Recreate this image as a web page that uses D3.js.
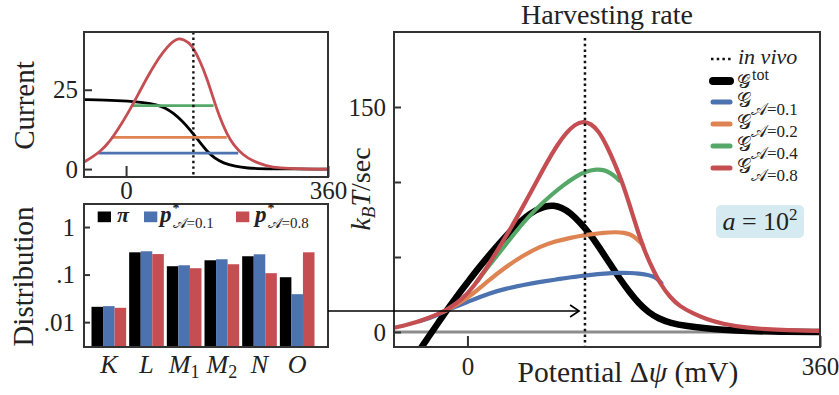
<!DOCTYPE html>
<html>
<head>
<meta charset="utf-8">
<script src="https://cdn.jsdelivr.net/npm/d3@7"></script>
<style>
  body { margin: 0; background: #fff; }
  svg text { font-family: "Liberation Serif", serif; fill: #222; }
</style>
</head>
<body>
<svg id="fig" width="839" height="395"></svg>
<script>
// ---- data ----
const potentialDomain = [-75, 360];
const inVivo = 120;

// top-left panel: current vs potential
const currentMax = [[-75, 2.2], [-60, 3.8], [-46, 5.6], [-35, 7.5], [-22.6, 10.3], [-8, 14.3], [7, 18.7],
  [22, 23.7], [37, 28.7], [52, 33.3], [66.5, 37], [80, 39.8], [90, 40.9], [96, 41.1], [104, 40.7],
  [112, 39.8], [120, 38.2], [132, 34], [144, 28.7], [156, 22], [167.5, 16], [180, 11], [191, 7.7],
  [208, 4.5], [227, 2.4], [250, 1], [274, 0.3], [310, 0.05], [360, 0]];
const currentTot = [[-75, 21.9], [-40, 21.8], [7, 21.4], [30, 21], [55, 20.3], [70, 19.3], [84, 17.7],
  [100, 15.2], [114, 12.4], [130, 8.8], [144, 5.6], [158, 3.4], [173, 1.9], [195, 0.8], [215, 0.3],
  [250, 0.05], [360, 0]];
const currentLevels = [5, 10, 20];
const levelSpans = [[-49, 200], [-25.5, 179.5], [10, 156]];

// bottom-left panel: distributions
const states = ["K", "L", "M1", "M2", "N", "O"];
const piDist = [0.021, 0.294, 0.150, 0.200, 0.243, 0.088];
const pA01 = [0.0217, 0.309, 0.157, 0.210, 0.267, 0.0387];
const pA08 = [0.020, 0.270, 0.136, 0.165, 0.107, 0.294];

// main panel: harvesting rate
const gTot = [[-52, -15], [-40, -3.5], [-30, 6], [-20, 15.5], [-10, 24.5], [0, 33], [10, 41.5], [20, 49.5],
  [30, 57], [40, 64.5], [50, 71], [60, 77], [70, 81.5], [80, 84], [88, 84.5], [96, 83], [105, 79.5],
  [115, 73], [125, 65.5], [135, 56], [145, 46], [155, 36], [165, 27], [175, 19], [185, 13], [195, 9],
  [207, 6], [225, 3.8], [241, 2.6], [260, 1.5], [285, 0.6], [320, 0.2], [360, 0]];
const gA01 = [[-49, 7.2], [-35, 10], [-21, 14.7], [0, 20], [23, 26], [40, 29], [57, 31.4], [75, 33.5],
  [91, 35], [105, 36.5], [125, 38], [140, 39], [155, 39.5], [166, 39.4], [175, 39], [183, 38.2],
  [190, 37], [194, 35.5], [198, 32.5]];
const gA02 = [[-25.5, 13.2], [-10, 18.5], [6, 25.5], [20, 33.5], [40, 43.8], [57, 51], [74, 57], [90, 60.5],
  [105, 62.8], [115, 64], [125, 65], [139, 66.3], [152, 66.6], [160, 66.2], [166, 65.2], [172, 62.8],
  [178.5, 58.5]];
const gA04 = [[10, 33.8], [16, 39.2], [23, 45], [40, 59], [57, 73], [70, 82], [84, 90.5], [98, 98],
  [111.5, 104], [122, 107.3], [132, 108.5], [140, 108], [146, 106], [151, 103.5], [155, 101]];
const gA08 = [[-75, 2.8], [-60, 5], [-45, 8], [-30, 12], [-21, 14.7], [-5, 22], [6, 30], [20, 43],
  [33, 57], [45, 70], [57, 84], [70, 99.5], [81, 113], [92, 125], [101, 133], [110, 138.5], [118, 140.5],
  [126, 139], [134, 134], [142, 124.5], [150, 113], [158, 100], [166, 84], [174, 67], [182, 52],
  [190, 41], [197, 32], [207, 23], [217, 17], [230, 12.5], [244, 8.5], [260, 5.5], [285, 2.7],
  [320, 1.2], [360, 0.7]];

const blue = "#4c72b0", orange = "#dd8452", green = "#55a868", red = "#c44e52";
const levelColors = [blue, orange, green];

const svg = d3.select("#fig");
svg.append("rect").attr("width", 839).attr("height", 395).attr("fill", "#fff");

const smooth = (x, y) => d3.line().x(d => x(d[0])).y(d => y(d[1])).curve(d3.curveBasis);

function frame(g, x0, y0, x1, y1) {
  g.append("rect").attr("x", x0).attr("y", y0).attr("width", x1 - x0).attr("height", y1 - y0)
    .attr("fill", "none").attr("stroke", "#333").attr("stroke-width", 2);
}
function styleAxis(g) {
  g.select(".domain").remove();
  g.selectAll(".tick line").attr("stroke", "#333").attr("stroke-width", 2);
  g.selectAll(".tick text").attr("font-family", "Liberation Serif").attr("font-size", 25).attr("fill", "#222");
}

// ---------- top-left: current ----------
const cur = { l: 84, r: 328, t: 32, b: 177 };
const xCur = d3.scaleLinear().domain(potentialDomain).range([cur.l, cur.r]);
const yCur = d3.scaleLinear().domain([-2.5, 43.2]).range([cur.b, cur.t]);
const gCur = svg.append("g");
svg.append("clipPath").attr("id", "clipCur").append("rect")
  .attr("x", cur.l).attr("y", cur.t).attr("width", cur.r - cur.l).attr("height", cur.b - cur.t);
const gCurPlot = gCur.append("g").attr("clip-path", "url(#clipCur)");

gCurPlot.append("path").datum(currentTot).attr("d", smooth(xCur, yCur))
  .attr("fill", "none").attr("stroke", "#000").attr("stroke-width", 2.8);
gCurPlot.selectAll(".lvl").data(currentLevels).join("line").attr("class", "lvl")
  .attr("x1", (d, i) => xCur(levelSpans[i][0])).attr("x2", (d, i) => xCur(levelSpans[i][1]))
  .attr("y1", d => yCur(d)).attr("y2", d => yCur(d))
  .attr("stroke", (d, i) => levelColors[i]).attr("stroke-width", 2.8);
gCurPlot.append("path").datum(currentMax).attr("d", smooth(xCur, yCur))
  .attr("fill", "none").attr("stroke", red).attr("stroke-width", 2.8);
gCurPlot.append("line").attr("x1", xCur(inVivo)).attr("x2", xCur(inVivo))
  .attr("y1", cur.t).attr("y2", cur.b)
  .attr("stroke", "#111").attr("stroke-width", 2.4).attr("stroke-dasharray", "2.4,3.2");

gCur.append("g").attr("transform", `translate(${cur.l},0)`)
  .call(d3.axisLeft(yCur).tickValues([0, 25]).tickSize(-8).tickPadding(6)).call(styleAxis);
gCur.append("g").attr("transform", `translate(0,${cur.b})`)
  .call(d3.axisBottom(xCur).tickValues([0, 360]).tickSize(-11).tickPadding(4)).call(styleAxis);
frame(gCur, cur.l, cur.t, cur.r, cur.b);
svg.append("text").attr("transform", `translate(34,${(cur.t + cur.b) / 2 + 1}) rotate(-90)`)
  .attr("text-anchor", "middle").attr("font-size", 29).text("Current");

// ---------- bottom-left: distribution ----------
const dist = { l: 84, r: 328, t: 204, b: 347 };
const xBand = d3.scaleBand().domain(states).range([91.5, 314.5]).paddingInner(0.08);
const xSub = d3.scaleBand().domain([0, 1, 2]).range([0, xBand.bandwidth()]);
const yBar = d3.scaleLog().domain([0.003, 3.05]).range([dist.b, dist.t]);
const gDist = svg.append("g");
const barSeries = [{ vals: piDist, color: "#000" }, { vals: pA01, color: blue }, { vals: pA08, color: red }];
barSeries.forEach((s, si) => {
  gDist.selectAll(".b" + si).data(states).join("rect").attr("class", "b" + si)
    .attr("x", d => xBand(d) + xSub(si)).attr("width", xSub.bandwidth())
    .attr("y", (d, i) => yBar(s.vals[i])).attr("height", (d, i) => dist.b - yBar(s.vals[i]))
    .attr("fill", s.color);
});
gDist.append("g").attr("transform", `translate(${dist.l},0)`)
  .call(d3.axisLeft(yBar).tickValues([0.01, 0.1, 1]).tickSize(-6).tickPadding(9)
    .tickFormat(d => d === 1 ? "1" : d === 0.1 ? ".1" : ".01")).call(styleAxis);
frame(gDist, dist.l, dist.t, dist.r, dist.b);
const stLab = gDist.selectAll(".st").data(states).join("text").attr("class", "st")
  .attr("x", d => xBand(d) + xBand.bandwidth() / 2).attr("y", 373)
  .attr("text-anchor", "middle").attr("font-size", 26).attr("font-style", "italic");
stLab.append("tspan").text(d => d[0]);
stLab.filter(d => d.length > 1).append("tspan").attr("dy", 5).attr("font-size", 18)
  .attr("font-style", "normal").text(d => d.slice(1));
svg.append("text").attr("transform", `translate(33,${(dist.t + dist.b) / 2 + 1}) rotate(-90)`)
  .attr("text-anchor", "middle").attr("font-size", 29).text("Distribution");

// bar legend
const barLeg = [{ x: 97.7, c: "#000", tx: 117 }, { x: 144, c: blue, tx: 160 }, { x: 236, c: red, tx: 255 }];
barLeg.forEach(l => gDist.append("rect").attr("x", l.x).attr("y", 211.5).attr("width", 13.3)
  .attr("height", 10.7).attr("fill", l.c));
gDist.append("text").attr("x", barLeg[0].tx).attr("y", 222).attr("font-size", 22)
  .attr("font-weight", "bold").attr("font-style", "italic").text("π");
[["0.1", 1], ["0.8", 2]].forEach(([a, i]) => {
  const t = gDist.append("text").attr("x", barLeg[i].tx).attr("y", 222).attr("font-size", 23);
  t.append("tspan").attr("font-weight", "bold").attr("font-style", "italic").text("p");
  t.append("tspan").attr("font-size", 14).attr("dy", -9).attr("dx", 1).attr("font-weight", "bold").text("*");
  t.append("tspan").attr("font-size", 15).attr("dy", 15).attr("dx", -7).text("𝒜=" + a);
});

// ---------- main: harvesting rate ----------
const m = { l: 394, r: 820, t: 32, b: 347 };
const xMain = d3.scaleLinear().domain(potentialDomain).range([m.l, m.r]);
const yMain = d3.scaleLinear().domain([-10, 200]).range([m.b, m.t]);
const gMain = svg.append("g");
svg.append("clipPath").attr("id", "clipMain").append("rect")
  .attr("x", m.l).attr("y", m.t).attr("width", m.r - m.l).attr("height", m.b - m.t);
const gPlot = gMain.append("g").attr("clip-path", "url(#clipMain)");
gPlot.append("line").attr("x1", m.l).attr("x2", m.r).attr("y1", yMain(0)).attr("y2", yMain(0))
  .attr("stroke", "#8c8c8c").attr("stroke-width", 3);

const mainSeries = [
  { d: gTot, c: "#000", w: 6.5 },
  { d: gA01, c: blue, w: 4.2 },
  { d: gA02, c: orange, w: 4.2 },
  { d: gA04, c: green, w: 4.2 },
  { d: gA08, c: red, w: 4.2 }];
mainSeries.forEach(s => gPlot.append("path").datum(s.d).attr("d", smooth(xMain, yMain))
  .attr("fill", "none").attr("stroke", s.c).attr("stroke-width", s.w).attr("stroke-linecap", "round"));
gPlot.append("line").attr("x1", xMain(inVivo)).attr("x2", xMain(inVivo))
  .attr("y1", 38).attr("y2", m.b)
  .attr("stroke", "#111").attr("stroke-width", 2.5).attr("stroke-dasharray", "2.5,3.2");

gMain.append("g").attr("transform", `translate(${m.l},0)`)
  .call(d3.axisLeft(yMain).tickValues([0, 50, 100, 150]).tickSize(-7).tickPadding(8)
    .tickFormat(d => (d === 0 || d === 150) ? d : "")).call(styleAxis);
gMain.append("g").attr("transform", `translate(0,${m.b})`)
  .call(d3.axisBottom(xMain).tickValues([0, 360]).tickSize(-11).tickPadding(10)).call(styleAxis);
frame(gMain, m.l, m.t, m.r, m.b);

svg.append("text").attr("x", 607).attr("y", 24).attr("text-anchor", "middle")
  .attr("font-size", 28).text("Harvesting rate");
const xl = svg.append("text").attr("x", 628).attr("y", 382).attr("text-anchor", "middle").attr("font-size", 29.5);
xl.append("tspan").text("Potential Δ");
xl.append("tspan").attr("font-style", "italic").text("ψ");
xl.append("tspan").text(" (mV)");
const yl = svg.append("text").attr("transform", `translate(370,189) rotate(-90)`)
  .attr("text-anchor", "middle").attr("font-size", 28);
yl.append("tspan").attr("font-style", "italic").text("k");
yl.append("tspan").attr("font-style", "italic").attr("font-size", 19).attr("dy", 5).text("B");
yl.append("tspan").attr("font-style", "italic").attr("dy", -5).text("T");
yl.append("tspan").text("/sec");

// arrow from the distribution panel into the main panel
const ay = yMain(14), ax = xMain(114);
svg.append("line").attr("x1", dist.r).attr("x2", ax).attr("y1", ay).attr("y2", ay)
  .attr("stroke", "#000").attr("stroke-width", 1.6);
svg.append("path").attr("d", `M${ax - 9},${ay - 6}L${ax},${ay}L${ax - 9},${ay + 6}`)
  .attr("fill", "none").attr("stroke", "#000").attr("stroke-width", 1.6);

// main legend
const leg = svg.append("g");
const legY = [59, 81, 102, 124, 146, 168];
leg.append("line").attr("x1", 711).attr("x2", 731).attr("y1", legY[0]).attr("y2", legY[0])
  .attr("stroke", "#111").attr("stroke-width", 2.5).attr("stroke-dasharray", "2.5,3.2");
leg.append("text").attr("x", 738).attr("y", legY[0] + 5).attr("font-size", 22)
  .attr("font-style", "italic").text("in vivo");
mainSeries.forEach((s, i) => {
  leg.append("line").attr("x1", 713).attr("x2", 730).attr("y1", legY[i + 1]).attr("y2", legY[i + 1])
    .attr("stroke", s.c).attr("stroke-width", i === 0 ? 8 : 5).attr("stroke-linecap", "round");
});
const tTot = leg.append("text").attr("x", 737).attr("y", legY[1] + 7).attr("font-size", 19);
tTot.append("tspan").text("𝒢\u0307");
tTot.append("tspan").attr("font-size", 16).attr("dy", -8).attr("dx", 1).text("tot");
["0.1", "0.2", "0.4", "0.8"].forEach((a, i) => {
  const t = leg.append("text").attr("x", 737).attr("y", legY[i + 2] + 5).attr("font-size", 20);
  t.append("tspan").text("𝒢");
  t.append("tspan").attr("font-size", 17).attr("dy", 8).text("𝒜=" + a);
});

// parameter box
svg.append("rect").attr("x", 716).attr("y", 205).attr("width", 88).attr("height", 33).attr("rx", 5)
  .attr("fill", "#d6eaf1");
const ab = svg.append("text").attr("x", 760).attr("y", 230).attr("text-anchor", "middle").attr("font-size", 26);
ab.append("tspan").attr("font-style", "italic").text("a");
ab.append("tspan").text(" = 10");
ab.append("tspan").attr("font-size", 17).attr("dy", -10).text("2");
</script>
</body>
</html>
